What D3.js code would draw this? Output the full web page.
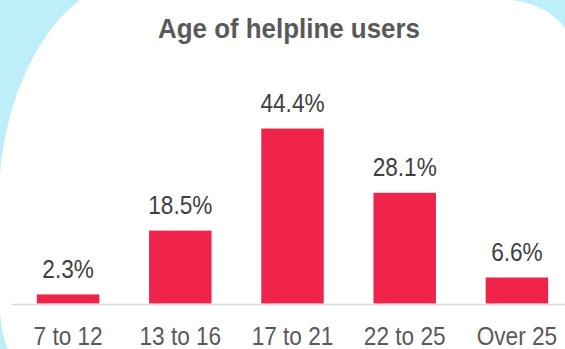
<!DOCTYPE html>
<html>
<head>
<meta charset="utf-8">
<script src="https://cdn.jsdelivr.net/npm/d3@7"></script>
<style>
  html, body { margin: 0; padding: 0; background: #bdeef9; }
  svg { display: block; }
  text { font-family: "Liberation Sans", Arial, sans-serif; }
</style>
</head>
<body>
<svg id="chart" width="565" height="349"></svg>
<script>
// Age groups and share of helpline users (%)
const categories = ["7 to 12", "13 to 16", "17 to 21", "22 to 25", "Over 25"];
const shares = [2.3, 18.5, 44.4, 28.1, 6.6];
const titleText = "Age of helpline users";

const W = 565, H = 349;
const svg = d3.select("#chart");

// White card with sweeping corners over the light blue backdrop
svg.append("rect").attr("width", W).attr("height", H).attr("fill", "#bdeef9");
svg.append("path")
  .attr("fill", "#ffffff")
  .attr("d", "M80,0 L512,0 Q548,5 565,28 L565,349 L8,349 Q1,335 -1,300 L-1,220 C-5,100 45,25 80,0 Z");

const baseY = 303.5;
// Band layout runs a little past the right edge so the last bar sits near it
const x = d3.scaleBand()
  .domain(categories)
  .range([12, 573])
  .paddingInner(0.443)
  .paddingOuter(0.2215);

const y = d3.scaleLinear()
  .domain([0, 50])
  .range([baseY, baseY - 197]);

const sx = 0.87;

// Title
svg.append("text")
  .attr("transform", `translate(289,38) scale(0.96,1)`)
  .attr("text-anchor", "middle")
  .attr("font-weight", "bold")
  .attr("font-size", 27)
  .attr("fill", "#595959")
  .text(titleText);

// Bars
svg.append("g").selectAll("rect")
  .data(shares)
  .join("rect")
  .attr("x", (d, i) => x(categories[i]))
  .attr("width", x.bandwidth())
  .attr("y", d => y(d))
  .attr("height", d => y(0) - y(d))
  .attr("fill", "#f0244a");

// Value labels above bars
svg.append("g").selectAll("text")
  .data(shares)
  .join("text")
  .attr("transform", (d, i) => `translate(${x(categories[i]) + x.bandwidth() / 2},${y(d) - 16.5}) scale(${sx},1)`)
  .attr("text-anchor", "middle")
  .attr("font-size", 26)
  .attr("fill", "#404040")
  .text(d => d.toFixed(1) + "%");

// Baseline
svg.append("line")
  .attr("x1", 12).attr("x2", W)
  .attr("y1", baseY + 1).attr("y2", baseY + 1)
  .attr("stroke", "#d9d9d9")
  .attr("stroke-width", 1.5);

// Category axis
const axis = svg.append("g")
  .attr("transform", `translate(0,${baseY + 1})`)
  .call(d3.axisBottom(x).tickSize(0).tickPadding(0));
axis.select(".domain").remove();
axis.selectAll("text")
  .attr("y", 41)
  .attr("dy", 0)
  .attr("transform", `scale(${sx},1)`)
  .attr("font-family", "'Liberation Sans', Arial, sans-serif")
  .attr("font-size", 26)
  .attr("fill", "#595959");
</script>
</body>
</html>
